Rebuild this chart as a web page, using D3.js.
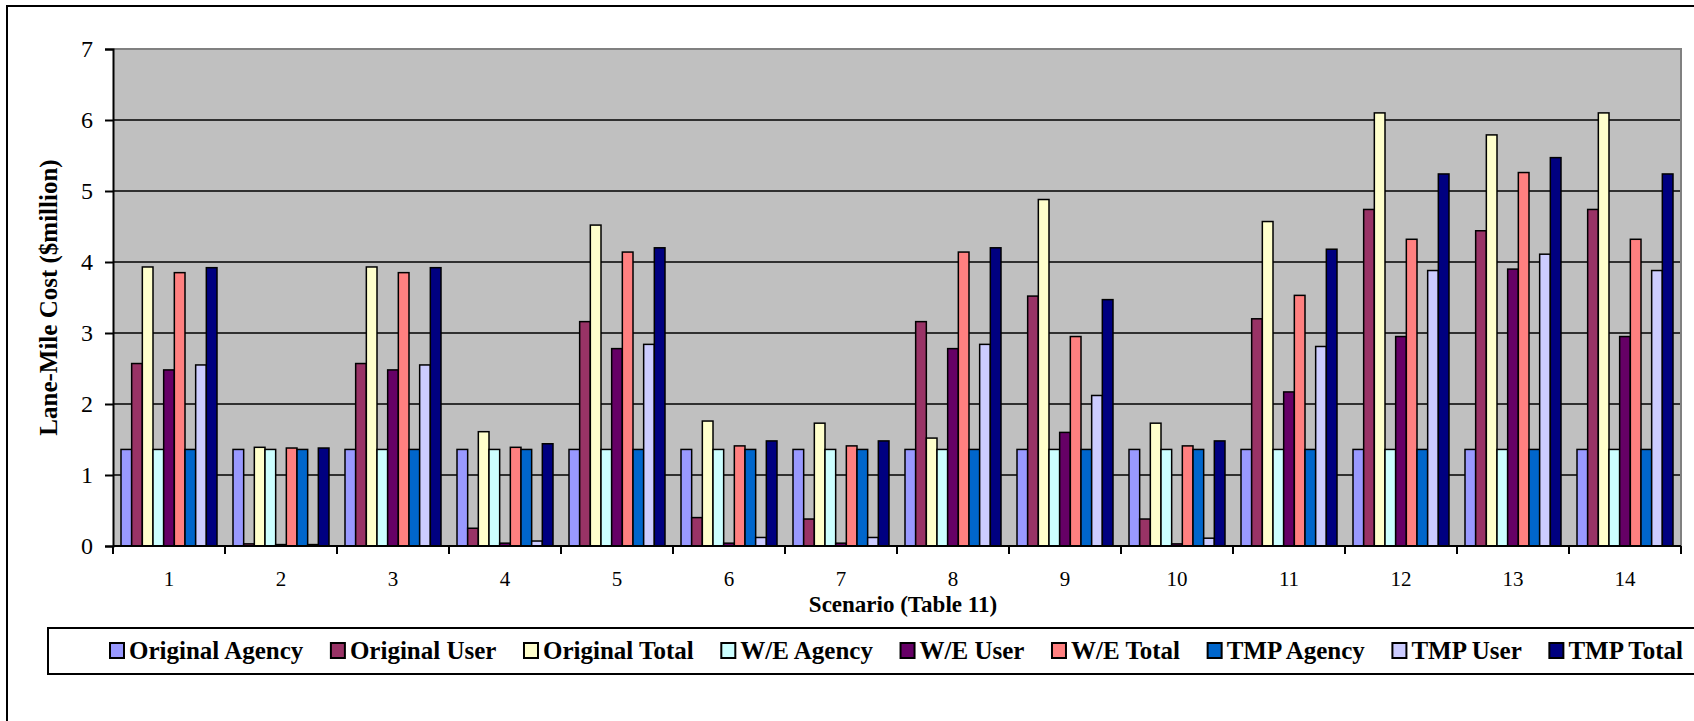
<!DOCTYPE html>
<html>
<head>
<meta charset="utf-8">
<script src="https://cdn.jsdelivr.net/npm/d3@7"></script>
<style>
  html, body { margin: 0; padding: 0; background: #ffffff; }
  svg { display: block; }
  text { font-family: "Liberation Serif", "Times New Roman", serif; fill: #000; }
</style>
</head>
<body>
<svg id="chart" width="1694" height="721"></svg>
<script>
// Scenario categories (Table 11)
const categories = ["1", "2", "3", "4", "5", "6", "7", "8", "9", "10", "11", "12", "13", "14"];

// Series names, in legend / bar order
const seriesNames = ["Original Agency", "Original User", "Original Total",
                     "W/E Agency", "W/E User", "W/E Total",
                     "TMP Agency", "TMP User", "TMP Total"];

// Lane-mile cost per scenario ($million)
const originalAgency = [1.36, 1.36, 1.36, 1.36, 1.36, 1.36, 1.36, 1.36, 1.36, 1.36, 1.36, 1.36, 1.36, 1.36];
const originalUser   = [2.57, 0.03, 2.57, 0.25, 3.16, 0.40, 0.38, 3.16, 3.52, 0.38, 3.20, 4.74, 4.44, 4.74];
const originalTotal  = [3.93, 1.39, 3.93, 1.61, 4.52, 1.76, 1.73, 1.52, 4.88, 1.73, 4.57, 6.10, 5.79, 6.10];
const weAgency       = [1.36, 1.36, 1.36, 1.36, 1.36, 1.36, 1.36, 1.36, 1.36, 1.36, 1.36, 1.36, 1.36, 1.36];
const weUser         = [2.48, 0.02, 2.48, 0.04, 2.78, 0.04, 0.04, 2.78, 1.60, 0.03, 2.17, 2.95, 3.90, 2.95];
const weTotal        = [3.85, 1.38, 3.85, 1.39, 4.14, 1.41, 1.41, 4.14, 2.95, 1.41, 3.53, 4.32, 5.26, 4.32];
const tmpAgency      = [1.36, 1.36, 1.36, 1.36, 1.36, 1.36, 1.36, 1.36, 1.36, 1.36, 1.36, 1.36, 1.36, 1.36];
const tmpUser        = [2.55, 0.02, 2.55, 0.07, 2.84, 0.12, 0.12, 2.84, 2.12, 0.11, 2.81, 3.88, 4.11, 3.88];
const tmpTotal       = [3.92, 1.38, 3.92, 1.44, 4.20, 1.48, 1.48, 4.20, 3.47, 1.48, 4.18, 5.24, 5.47, 5.24];

const seriesValues = [originalAgency, originalUser, originalTotal,
                      weAgency, weUser, weTotal,
                      tmpAgency, tmpUser, tmpTotal];

const seriesColors = ["#9999FF", "#993366", "#FFFFCC",
                      "#CCFFFF", "#660066", "#FF8080",
                      "#0066CC", "#CCCCFF", "#000080"];

const yTicks = [0, 1, 2, 3, 4, 5, 6, 7];

const yTitle = "Lane-Mile Cost ($million)";
const xTitle = "Scenario (Table 11)";

// ---- layout ----
const svg = d3.select("#chart");
const plot = { left: 113, right: 1681, top: 49, bottom: 546 };

// outer chart frame (runs past the right and bottom edges of the page)
svg.append("rect")
  .attr("x", 7).attr("y", 6)
  .attr("width", 1760).attr("height", 800)
  .attr("fill", "#fff").attr("stroke", "#000").attr("stroke-width", 2);

const y = d3.scaleLinear().domain([0, 7]).range([plot.bottom, plot.top]);

const gapRatio = 1.5 / 10.5;
const x0 = d3.scaleBand().domain(categories)
  .range([plot.left, plot.right])
  .paddingInner(gapRatio).paddingOuter(gapRatio / 2);
const x1 = d3.scaleBand().domain(seriesNames).range([0, x0.bandwidth()]);

// plot area background
svg.append("rect")
  .attr("x", plot.left).attr("y", plot.top)
  .attr("width", plot.right - plot.left).attr("height", plot.bottom - plot.top)
  .attr("fill", "#C0C0C0");

// horizontal gridlines
svg.append("g")
  .selectAll("line")
  .data(yTicks.filter(t => t > 0 && t < 7))
  .join("line")
  .attr("x1", plot.left).attr("x2", plot.right)
  .attr("y1", d => y(d)).attr("y2", d => y(d))
  .attr("stroke", "#000").attr("stroke-width", 1.6);

// grey top / right plot border
svg.append("path")
  .attr("d", `M${plot.left},${plot.top}H${plot.right}V${plot.bottom}`)
  .attr("fill", "none").attr("stroke", "#808080").attr("stroke-width", 2);

// bars
const groups = svg.append("g")
  .selectAll("g")
  .data(categories)
  .join("g")
  .attr("transform", d => `translate(${x0(d)},0)`);

groups.selectAll("rect")
  .data((c, i) => seriesNames.map((s, k) => ({ s, v: seriesValues[k][i], color: seriesColors[k] })))
  .join("rect")
  .attr("x", d => x1(d.s))
  .attr("width", x1.bandwidth())
  .attr("y", d => y(d.v))
  .attr("height", d => y(0) - y(d.v))
  .attr("fill", d => d.color)
  .attr("stroke", "#000")
  .attr("stroke-width", 1.5);

// y axis
const yAxis = svg.append("g")
  .attr("transform", `translate(${plot.left},0)`)
  .call(d3.axisLeft(y).tickValues(yTicks).tickSize(8).tickPadding(12).tickFormat(d3.format("d")));
yAxis.select(".domain").attr("stroke", "#000").attr("stroke-width", 2);
yAxis.selectAll(".tick line").attr("stroke", "#000").attr("stroke-width", 2);
yAxis.selectAll(".tick text")
  .style("font-family", "'Liberation Serif', serif")
  .style("font-size", "24px")
  .attr("fill", "#000");

// x axis: labels centred on categories
const xAxis = svg.append("g")
  .attr("transform", `translate(0,${plot.bottom})`)
  .call(d3.axisBottom(x0).tickSize(0).tickPadding(25));
xAxis.select(".domain").remove();
xAxis.selectAll(".tick text")
  .style("font-family", "'Liberation Serif', serif")
  .style("font-size", "21px")
  .attr("fill", "#000");

// x axis line and category-boundary ticks
const boundaries = categories.map(c => x0(c) - x0.step() * gapRatio / 2)
  .concat([plot.right]);
svg.append("line")
  .attr("x1", plot.left).attr("x2", plot.right)
  .attr("y1", plot.bottom).attr("y2", plot.bottom)
  .attr("stroke", "#000").attr("stroke-width", 2);
svg.append("g")
  .selectAll("line")
  .data(boundaries)
  .join("line")
  .attr("x1", d => d).attr("x2", d => d)
  .attr("y1", plot.bottom).attr("y2", plot.bottom + 8)
  .attr("stroke", "#000").attr("stroke-width", 2);

// axis titles
svg.append("text")
  .attr("transform", `translate(57,${(plot.top + plot.bottom) / 2}) rotate(-90)`)
  .attr("text-anchor", "middle")
  .style("font-size", "25px").style("font-weight", "bold")
  .text(yTitle);

svg.append("text")
  .attr("x", (plot.left + plot.right) / 2 + 6).attr("y", 612)
  .attr("text-anchor", "middle")
  .style("font-size", "23px").style("font-weight", "bold")
  .text(xTitle);

// legend
const legend = svg.append("g");
legend.append("rect")
  .attr("x", 48).attr("y", 628)
  .attr("width", 1700).attr("height", 46)
  .attr("fill", "#fff").attr("stroke", "#000").attr("stroke-width", 2);

const legendStart = 110, legendEnd = 1683, swW = 14, swH = 15, swGap = 5;
const items = legend.selectAll("g.item")
  .data(seriesNames)
  .join("g").attr("class", "item");
const labels = items.append("text")
  .attr("y", 659)
  .style("font-size", "25px").style("font-weight", "bold")
  .text(d => d);
const widths = labels.nodes().map(n => n.getComputedTextLength());
const used = d3.sum(widths) + seriesNames.length * (swW + swGap);
const itemGap = (legendEnd - legendStart - used) / (seriesNames.length - 1);
let cx = legendStart;
items.each(function (d, i) {
  const g = d3.select(this);
  g.insert("rect", "text")
    .attr("x", cx).attr("y", 643)
    .attr("width", swW).attr("height", swH)
    .attr("fill", seriesColors[i]).attr("stroke", "#000").attr("stroke-width", 2);
  g.select("text").attr("x", cx + swW + swGap);
  cx += swW + swGap + widths[i] + itemGap;
});
</script>
</body>
</html>
